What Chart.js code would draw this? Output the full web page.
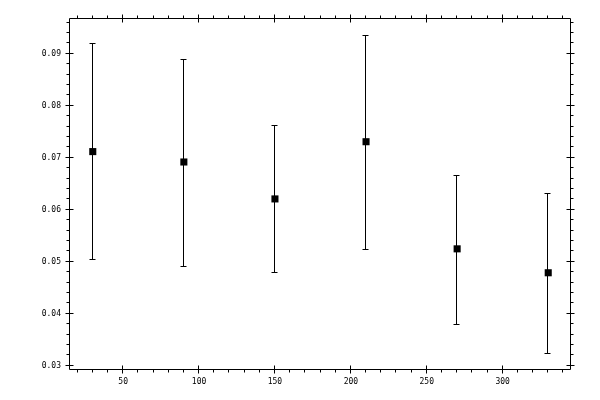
<!DOCTYPE html>
<html>
<head>
<meta charset="utf-8">
<script src="https://cdn.jsdelivr.net/npm/chart.js@4/dist/chart.umd.min.js"></script>
<style>
  html, body { margin: 0; padding: 0; background: #fff; }
  #wrap { width: 600px; height: 400px; }
</style>
</head>
<body>
<div id="wrap"><canvas id="chart"></canvas></div>
<script>
// measured points with their error bar ends
const xValues = [30, 90, 150, 210, 270, 330];
const yValues = [0.0712, 0.0692, 0.0621, 0.0731, 0.0525, 0.0479];
const yLow = [0.0506, 0.0492, 0.0481, 0.0525, 0.0381, 0.0325];
const yHigh = [0.0920, 0.0890, 0.0764, 0.0937, 0.0667, 0.0632];

// axis ticks
const xTicks = [50, 100, 150, 200, 250, 300];
const yTicks = [0.03, 0.04, 0.05, 0.06, 0.07, 0.08, 0.09];
const xMinorStep = 10;
const yMinorStep = 0.002;

const crisp = v => Math.floor(v - 0.5) + 0.5;

// vertical error bars, drawn under the markers
const errorBars = {
    id: 'errorBars',
    beforeDatasetsDraw(chart) {
        const { ctx, scales: { x, y } } = chart;
        ctx.save();
        ctx.strokeStyle = '#000';
        ctx.lineWidth = 1;
        ctx.beginPath();
        xValues.forEach((xv, i) => {
            const px = crisp(x.getPixelForValue(xv));
            const top = Math.round(y.getPixelForValue(yHigh[i])) + 0.5;
            const bot = Math.round(y.getPixelForValue(yLow[i])) + 0.5;
            ctx.moveTo(px, top);
            ctx.lineTo(px, bot);
            ctx.moveTo(px - 3, top);
            ctx.lineTo(px + 3, top);
            ctx.moveTo(px - 3, bot);
            ctx.lineTo(px + 3, bot);
        });
        ctx.stroke();
        ctx.restore();
    }
};

// box frame with ticks on all four sides: majors cross, minors point out
const frame = {
    id: 'frame',
    afterDraw(chart) {
        const { ctx, chartArea: a, scales: { x, y } } = chart;
        const L = crisp(a.left), R = crisp(a.right), T = crisp(a.top), B = crisp(a.bottom);
        ctx.save();
        ctx.strokeStyle = '#000';
        ctx.lineWidth = 1;
        ctx.beginPath();
        ctx.rect(L, T, R - L, B - T);

        const kx0 = Math.ceil(x.min / xMinorStep), kx1 = Math.floor(x.max / xMinorStep);
        for (let k = kx0; k <= kx1; k++) {
            const px = crisp(x.getPixelForValue(k * xMinorStep));
            ctx.moveTo(px, B); ctx.lineTo(px, B + 3);
            ctx.moveTo(px, T); ctx.lineTo(px, T - 3);
        }
        xTicks.forEach(v => {
            const px = crisp(x.getPixelForValue(v));
            ctx.moveTo(px, B - 4); ctx.lineTo(px, B + 4);
            ctx.moveTo(px, T - 4); ctx.lineTo(px, T + 4);
        });

        const ky0 = Math.ceil(y.min / yMinorStep - 1e-6), ky1 = Math.floor(y.max / yMinorStep + 1e-6);
        for (let k = ky0; k <= ky1; k++) {
            const py = crisp(y.getPixelForValue(k * yMinorStep));
            ctx.moveTo(L, py); ctx.lineTo(L - 3, py);
            ctx.moveTo(R, py); ctx.lineTo(R + 3, py);
        }
        yTicks.forEach(v => {
            const py = crisp(y.getPixelForValue(v));
            ctx.moveTo(L - 4, py); ctx.lineTo(L + 4, py);
            ctx.moveTo(R - 4, py); ctx.lineTo(R + 4, py);
        });
        ctx.stroke();
        ctx.restore();
    }
};

const tickFont = { family: 'DejaVu Sans Mono', size: 8 };

new Chart(document.getElementById('chart'), {
    type: 'scatter',
    data: {
        datasets: [{
            data: xValues.map((xv, i) => ({ x: xv, y: yValues[i] })),
            pointStyle: 'rect',
            pointRadius: 5,
            backgroundColor: '#000',
            borderColor: '#000',
            borderWidth: 0
        }]
    },
    options: {
        responsive: true,
        maintainAspectRatio: false,
        animation: false,
        layout: { padding: { top: 19, right: 29, left: 0, bottom: 0 } },
        plugins: { legend: { display: false }, tooltip: { enabled: false } },
        scales: {
            x: {
                type: 'linear', min: 15, max: 345,
                afterBuildTicks: s => { s.ticks = xTicks.map(v => ({ value: v })); },
                afterFit: s => { s.height = 30; },
                grid: { display: false, drawTicks: false },
                border: { display: false },
                ticks: { color: '#000', font: tickFont, padding: 7, maxRotation: 0, autoSkip: false, callback: v => String(v) }
            },
            y: {
                type: 'linear', min: 0.0292, max: 0.0967,
                afterBuildTicks: s => { s.ticks = yTicks.map(v => ({ value: v })); },
                afterFit: s => { s.width = 70; },
                grid: { display: false, drawTicks: false },
                border: { display: false },
                ticks: { color: '#000', font: tickFont, padding: 9, autoSkip: false, callback: v => v.toFixed(2) }
            }
        }
    },
    plugins: [errorBars, frame]
});
</script>
</body>
</html>
